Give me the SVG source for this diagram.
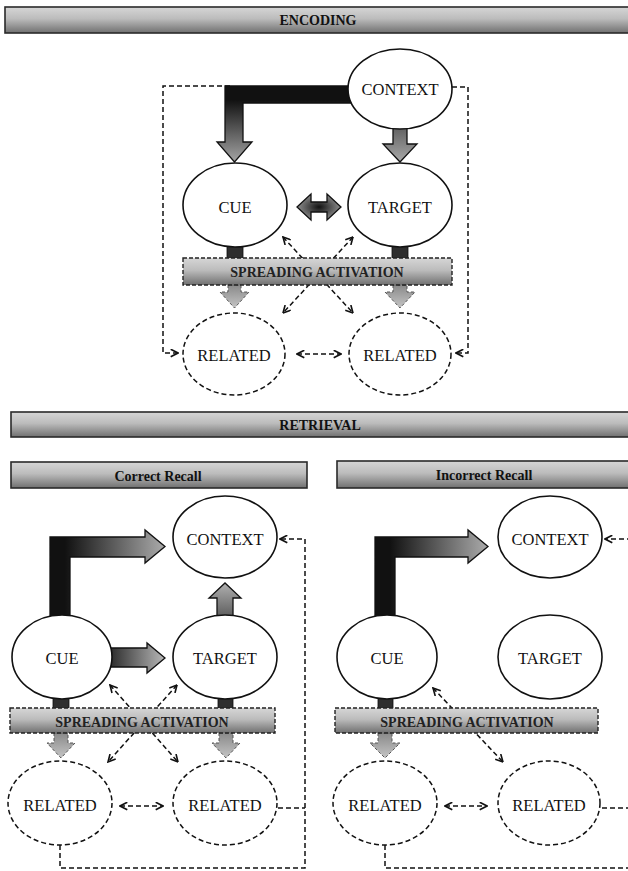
<svg xmlns="http://www.w3.org/2000/svg" width="628" height="871" viewBox="0 0 628 871">
<style>
.bar{stroke:#2a2a2a;stroke-width:1.6;fill:url(#barG)}
.sbar{stroke:#222;stroke-width:1.4;stroke-dasharray:4 2;fill:url(#barG)}
.hdr{font-family:"Liberation Serif",serif;font-weight:bold;font-size:14px;text-anchor:middle;fill:#111}
.sp{font-family:"Liberation Serif",serif;font-weight:bold;font-size:14px;text-anchor:middle;fill:#222}
.lbl{font-family:"Liberation Serif",serif;font-size:16.5px;text-anchor:middle;fill:#111}
.node{fill:#fff;stroke:#111;stroke-width:1.6}
.rel{fill:#fff;stroke:#111;stroke-width:1.5;stroke-dasharray:5 3}
.dash{fill:none;stroke:#111;stroke-width:1.5;stroke-dasharray:5 3}
.dbl{fill:none;stroke:#111;stroke-width:1.5;stroke-dasharray:5 3;marker-start:url(#ch);marker-end:url(#ch)}
.one{fill:none;stroke:#111;stroke-width:1.5;stroke-dasharray:5 3;marker-end:url(#ch)}
.stem{fill:#2e2e2e;stroke:#111;stroke-width:0.8}
.down{fill:url(#downG);stroke:#555;stroke-width:1;stroke-dasharray:3 2}
.blk{stroke:#111;stroke-width:1.3}
</style>
<defs>
<linearGradient id="barG" x1="0" y1="0" x2="0" y2="1">
<stop offset="0" stop-color="#d6d6d6"/>
<stop offset="0.45" stop-color="#bcbcbc"/>
<stop offset="1" stop-color="#707070"/>
</linearGradient>
<linearGradient id="downG" x1="0" y1="0" x2="0" y2="1">
<stop offset="0" stop-color="#8a8a8a"/>
<stop offset="1" stop-color="#c4c4c4"/>
</linearGradient>
<linearGradient id="encL" gradientUnits="userSpaceOnUse" x1="0" y1="100" x2="0" y2="160">
<stop offset="0" stop-color="#111"/>
<stop offset="1" stop-color="#a0a0a0"/>
</linearGradient>
<linearGradient id="encV" x1="0" y1="0" x2="0" y2="1">
<stop offset="0" stop-color="#5a5a5a"/>
<stop offset="1" stop-color="#a8a8a8"/>
</linearGradient>
<radialGradient id="dblG" cx="0.5" cy="0.5" r="0.55">
<stop offset="0" stop-color="#111"/>
<stop offset="1" stop-color="#9a9a9a"/>
</radialGradient>
<linearGradient id="retL1" gradientUnits="userSpaceOnUse" x1="65" y1="0" x2="165" y2="0">
<stop offset="0" stop-color="#111"/>
<stop offset="1" stop-color="#ababab"/>
</linearGradient>
<linearGradient id="retL2" gradientUnits="userSpaceOnUse" x1="390" y1="0" x2="488" y2="0">
<stop offset="0" stop-color="#111"/>
<stop offset="1" stop-color="#ababab"/>
</linearGradient>
<linearGradient id="retH" x1="0" y1="0" x2="1" y2="0">
<stop offset="0" stop-color="#222"/>
<stop offset="1" stop-color="#b8b8b8"/>
</linearGradient>
<linearGradient id="retU" x1="0" y1="1" x2="0" y2="0">
<stop offset="0" stop-color="#555"/>
<stop offset="1" stop-color="#b0b0b0"/>
</linearGradient>
<marker id="ch" viewBox="0 0 9 9" refX="8.3" refY="4.5" markerWidth="9" markerHeight="9" markerUnits="userSpaceOnUse" orient="auto-start-reverse">
<path d="M1,0.7 L8.3,4.5 L1,8.3" fill="none" stroke="#111" stroke-width="1.6"/>
</marker>
</defs>
<rect width="628" height="871" fill="#fff"/>

<g id="encoding-header">
<rect class="bar" x="5" y="7" width="625" height="26"/>
<text class="hdr" x="318" y="25">ENCODING</text>
</g>

<g id="connectors">
<path class="one" d="M230,86 L163,86 L163,353 L178,353"/>
<path class="one" d="M452,87 L468,87 L468,353 L456,353"/>
<path class="dbl" d="M283,237 L353,313"/>
<path class="dbl" d="M353,237 L283,313"/>
<path class="dbl" d="M297,354 L341,354"/>
<path class="one" d="M60,845 L60,868 L305,868 L305,539 L280,539"/>
<path class="dash" d="M278,808 L305,808"/>
<path class="dbl" d="M110,685 L178,762"/>
<path class="dbl" d="M177,685 L108,762"/>
<path class="dbl" d="M120,806 L163,806"/>
<path class="one" d="M632,539 L605,539"/>
<path class="dash" d="M602,808 L632,808"/>
<path class="dash" d="M385,845 L385,868 L632,868"/>
<path class="dbl" d="M433,688 L503,762"/>
<path class="dbl" d="M445,806 L487,806"/>
</g>

<g id="encoding-arrows">
<path class="blk" fill="url(#encL)" d="M360,86 L225,86 L225,142 L217,142 L234.5,162 L252,142 L243,142 L243,103 L360,103 Z"/>
<path class="blk" fill="url(#encV)" d="M393,124 L393,144 L383,144 L400,162 L417,144 L407,144 L407,124 Z"/>
<path class="blk" fill="url(#dblG)" d="M297,207 L311,194 L311,202 L327,202 L327,194 L341,207 L327,220 L327,212 L311,212 L311,220 Z"/>
<rect class="stem" x="227" y="244" width="16" height="15"/>
<rect class="stem" x="392" y="244" width="16" height="15"/>
<path class="down" d="M228,285 L228,292 L220,292 L234.5,308 L249,292 L241,292 L241,285 Z"/>
<path class="down" d="M393,285 L393,292 L385,292 L400,308 L415,292 L407,292 L407,285 Z"/>
</g>

<g id="enc-context"><ellipse class="node" cx="400" cy="89" rx="52" ry="40"/><text class="lbl" x="400" y="95">CONTEXT</text></g>
<g id="enc-cue"><ellipse class="node" cx="235" cy="205" rx="52" ry="42"/><text class="lbl" x="235" y="213">CUE</text></g>
<g id="enc-target"><ellipse class="node" cx="400" cy="205" rx="52" ry="42"/><text class="lbl" x="400" y="213">TARGET</text></g>
<g id="enc-spreading"><rect class="sbar" x="183" y="258" width="269" height="27"/><text class="sp" x="317" y="277">SPREADING ACTIVATION</text></g>
<g id="enc-related1"><ellipse class="rel" cx="234" cy="354" rx="51" ry="41"/><text class="lbl" x="234" y="361">RELATED</text></g>
<g id="enc-related2"><ellipse class="rel" cx="400" cy="354" rx="51" ry="41"/><text class="lbl" x="400" y="361">RELATED</text></g>

<g id="retrieval-header">
<rect class="bar" x="11" y="412" width="620" height="25"/>
<text class="hdr" x="320" y="430">RETRIEVAL</text>
</g>
<g id="correct-header">
<rect class="bar" x="11" y="462" width="296" height="26"/>
<text class="hdr" x="158" y="480.5">Correct Recall</text>
</g>
<g id="incorrect-header">
<rect class="bar" x="337" y="461" width="294" height="27"/>
<text class="hdr" x="484" y="480">Incorrect Recall</text>
</g>

<g id="correct-arrows">
<path class="blk" fill="url(#retL1)" d="M50,622 L50,537 L145,537 L145,530 L165,546.5 L145,563 L145,557 L70,557 L70,622 Z"/>
<path class="blk" fill="url(#retH)" d="M106,648 L147,648 L147,643 L165,658 L147,673 L147,667 L106,667 Z"/>
<path class="blk" fill="url(#retU)" d="M217,620 L217,598 L209,598 L225,583 L241,598 L233,598 L233,620 Z"/>
<rect class="stem" x="53" y="696" width="16" height="13"/>
<rect class="stem" x="218" y="696" width="15" height="13"/>
<path class="down" d="M54,733 L54,743 L47,743 L61,758 L75,743 L68,743 L68,733 Z"/>
<path class="down" d="M219,733 L219,743 L212,743 L226,758 L240,743 L233,743 L233,733 Z"/>
</g>
<g id="cr-context"><ellipse class="node" cx="225" cy="537" rx="52" ry="41"/><text class="lbl" x="225" y="545">CONTEXT</text></g>
<g id="cr-cue"><ellipse class="node" cx="62" cy="657" rx="50" ry="42"/><text class="lbl" x="62" y="664">CUE</text></g>
<g id="cr-target"><ellipse class="node" cx="225" cy="657" rx="52" ry="42"/><text class="lbl" x="225" y="664">TARGET</text></g>
<g id="cr-spreading"><rect class="sbar" x="10" y="708" width="265" height="25"/><text class="sp" x="142" y="727">SPREADING ACTIVATION</text></g>
<g id="cr-related1"><ellipse class="rel" cx="60" cy="803" rx="52" ry="42"/><text class="lbl" x="60" y="811">RELATED</text></g>
<g id="cr-related2"><ellipse class="rel" cx="225" cy="803" rx="52" ry="42"/><text class="lbl" x="225" y="811">RELATED</text></g>

<g id="incorrect-arrows">
<path class="blk" fill="url(#retL2)" d="M375,622 L375,537 L468,537 L468,530 L488,546.5 L468,563 L468,557 L395,557 L395,622 Z"/>
<rect class="stem" x="378" y="696" width="15" height="13"/>
<path class="down" d="M378,733 L378,743 L370,743 L385,758 L400,743 L392,743 L392,733 Z"/>
</g>
<g id="ir-context"><ellipse class="node" cx="550" cy="537" rx="52" ry="41"/><text class="lbl" x="550" y="545">CONTEXT</text></g>
<g id="ir-cue"><ellipse class="node" cx="387" cy="657" rx="50" ry="42"/><text class="lbl" x="387" y="664">CUE</text></g>
<g id="ir-target"><ellipse class="node" cx="550" cy="657" rx="52" ry="42"/><text class="lbl" x="550" y="664">TARGET</text></g>
<g id="ir-spreading"><rect class="sbar" x="335" y="708" width="263" height="25"/><text class="sp" x="467" y="727">SPREADING ACTIVATION</text></g>
<g id="ir-related1"><ellipse class="rel" cx="385" cy="803" rx="52" ry="42"/><text class="lbl" x="385" y="811">RELATED</text></g>
<g id="ir-related2"><ellipse class="rel" cx="549" cy="803" rx="51" ry="42"/><text class="lbl" x="549" y="811">RELATED</text></g>
</svg>
